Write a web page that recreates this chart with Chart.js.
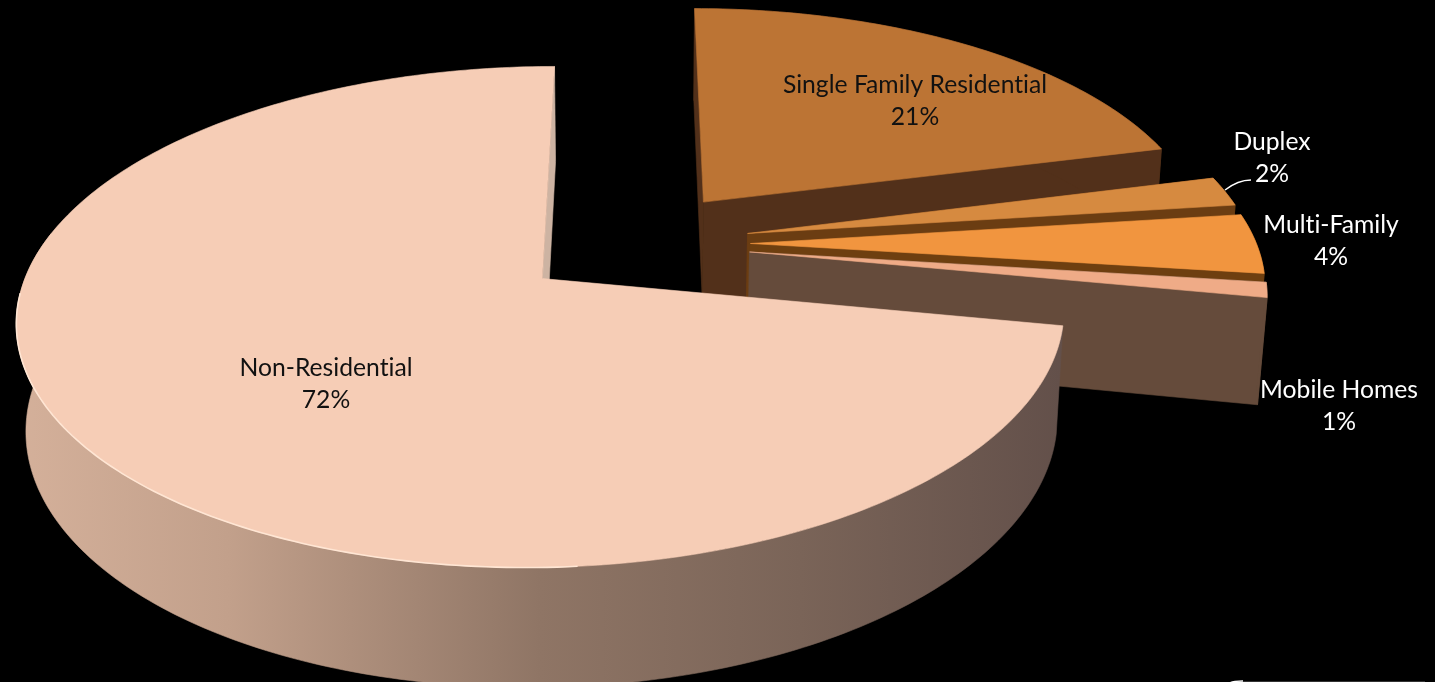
<!DOCTYPE html>
<html>
<head>
<meta charset="utf-8">
<title>Land use</title>
<script src="https://cdn.jsdelivr.net/npm/chart.js@4/dist/chart.umd.min.js"></script>
<style>
    html, body { margin: 0; padding: 0; background: #000; overflow: hidden; }
    canvas { display: block; }
</style>
</head>
<body>
<canvas id="pie" width="1435" height="682"></canvas>
<script>
const categories = ['Single Family Residential', 'Duplex', 'Multi-Family', 'Mobile Homes', 'Non-Residential'];
const shares = [21, 2, 4, 1, 72];

const topColors = ['#bc7434', '#d68a40', '#f1953f', '#efab87', '#f6cdb6'];
const sideColors = ['#52301a', '#6b3d12', '#6e3f10', '#654b3b', '#cdb3a2'];
const labelColors = ['#111111', '#ffffff', '#ffffff', '#ffffff', '#111111'];
const labelSpots = [[915, 85], [1272, 142], [1331, 225], [1339, 390], [326, 368]];

// Camera used to lay the disc on its side
const cam = { cx: 634, cy: 243.5, ax: 506, ay: 234, depth: 0.15, height: 106, sink: 0.015, explode: 0.23 };

function project(u, v, z) {
    const w = 1 + cam.depth * v + cam.sink * z;
    return [cam.cx + cam.ax * u / w, cam.cy + (cam.height * z - cam.ay * v) / w];
}

// Rim points of one slice, angles measured clockwise from the top
function rimPoints(from, to, ox, oy) {
    const n = Math.max(4, Math.ceil((to - from) * 60));
    const pts = [];
    for (let i = 0; i <= n; i++) {
        const t = from + (to - from) * i / n;
        pts.push([ox + Math.sin(t), oy + Math.cos(t)]);
    }
    return pts;
}

function fillPath(ctx, pts, fill) {
    ctx.beginPath();
    pts.forEach((p, i) => (i ? ctx.lineTo(p[0], p[1]) : ctx.moveTo(p[0], p[1])));
    ctx.closePath();
    ctx.fillStyle = fill;
    ctx.strokeStyle = fill;
    ctx.lineWidth = 0.6;
    ctx.fill();
    ctx.stroke();
}

function frontGradient(ctx) {
    const g = ctx.createLinearGradient(20, 0, 1060, 0);
    g.addColorStop(0, '#d4b09a');
    g.addColorStop(0.2, '#c2a08b');
    g.addColorStop(0.5, '#8f7565');
    g.addColorStop(0.75, '#7a6458');
    g.addColorStop(1, '#63504a');
    return g;
}

const solidPie = {
    id: 'solidPie',
    beforeDatasetDraw(chart) {
        const { ctx } = chart;
        const arcs = chart.getDatasetMeta(0).data;
        ctx.save();
        arcs.forEach((arc, i) => {
            const from = arc.startAngle + Math.PI / 2;
            const to = arc.endAngle + Math.PI / 2;
            const mid = (from + to) / 2;
            const ox = cam.explode * Math.sin(mid);
            const oy = cam.explode * Math.cos(mid);
            const rim = rimPoints(from, to, ox, oy);
            const isBig = i === arcs.length - 1;

            // cut faces first, the outer wall and the top cover what should not show
            const last = rim[rim.length - 1];
            const cuts = isBig ? [last] : [rim[0], last];
            cuts.forEach(p => {
                fillPath(ctx, [project(ox, oy, 0), project(p[0], p[1], 0), project(p[0], p[1], 1), project(ox, oy, 1)], sideColors[i]);
            });
            // the far side of the big slice stays out of sight
            const outer = isBig ? rim.filter(p => p[1] - oy < 0.2) : rim;
            const wall = outer.map(p => project(p[0], p[1], 0))
                .concat(outer.slice().reverse().map(p => project(p[0], p[1], 1)));
            fillPath(ctx, wall, isBig ? frontGradient(ctx) : sideColors[i]);

            const top = [project(ox, oy, 0)].concat(rim.map(p => project(p[0], p[1], 0)));
            fillPath(ctx, top, arc.options.backgroundColor);

            if (isBig) {
                // bright bevel along the near edge of the top
                ctx.beginPath();
                rim.forEach(p => {
                    if (p[1] - oy > -0.05 || p[0] - ox > 0.1) return;
                    const q = project(p[0], p[1], 0);
                    ctx.lineTo(q[0], q[1]);
                });
                ctx.strokeStyle = '#ffe6d4';
                ctx.lineWidth = 1.6;
                ctx.stroke();
            }
        });
        ctx.restore();
        return false;
    },
    afterDraw(chart) {
        const { ctx } = chart;
        ctx.save();
        ctx.font = '24.7px Lato, "Open Sans", sans-serif';
        ctx.textRendering = 'optimizeSpeed';
        ctx.textAlign = 'center';
        ctx.textBaseline = 'middle';
        categories.forEach((name, i) => {
            ctx.fillStyle = labelColors[i];
            ctx.fillText(name, labelSpots[i][0], labelSpots[i][1]);
            ctx.fillText(shares[i] + '%', labelSpots[i][0], labelSpots[i][1] + 32);
        });
        // leader from the Duplex label to its slice
        ctx.beginPath();
        ctx.moveTo(1225, 190);
        ctx.quadraticCurveTo(1238, 180, 1251, 180);
        ctx.strokeStyle = '#ffffff';
        ctx.lineWidth = 1.5;
        ctx.stroke();

        // top edge of the note box running off the bottom of the page
        ctx.beginPath();
        ctx.moveTo(1229, 684);
        ctx.quadraticCurveTo(1230, 681, 1243, 681);
        ctx.stroke();
        ctx.beginPath();
        ctx.moveTo(1243, 681.5);
        ctx.lineTo(1425, 681.5);
        ctx.strokeStyle = 'rgba(255,255,255,0.2)';
        ctx.lineWidth = 1;
        ctx.stroke();
        ctx.restore();
    }
};

new Chart(document.getElementById('pie'), {
    type: 'pie',
    data: {
        labels: categories,
        datasets: [{ data: shares, backgroundColor: topColors, borderWidth: 0 }]
    },
    options: {
        responsive: false,
        animation: false,
        plugins: { legend: { display: false }, tooltip: { enabled: false } }
    },
    plugins: [solidPie]
});
</script>
</body>
</html>
